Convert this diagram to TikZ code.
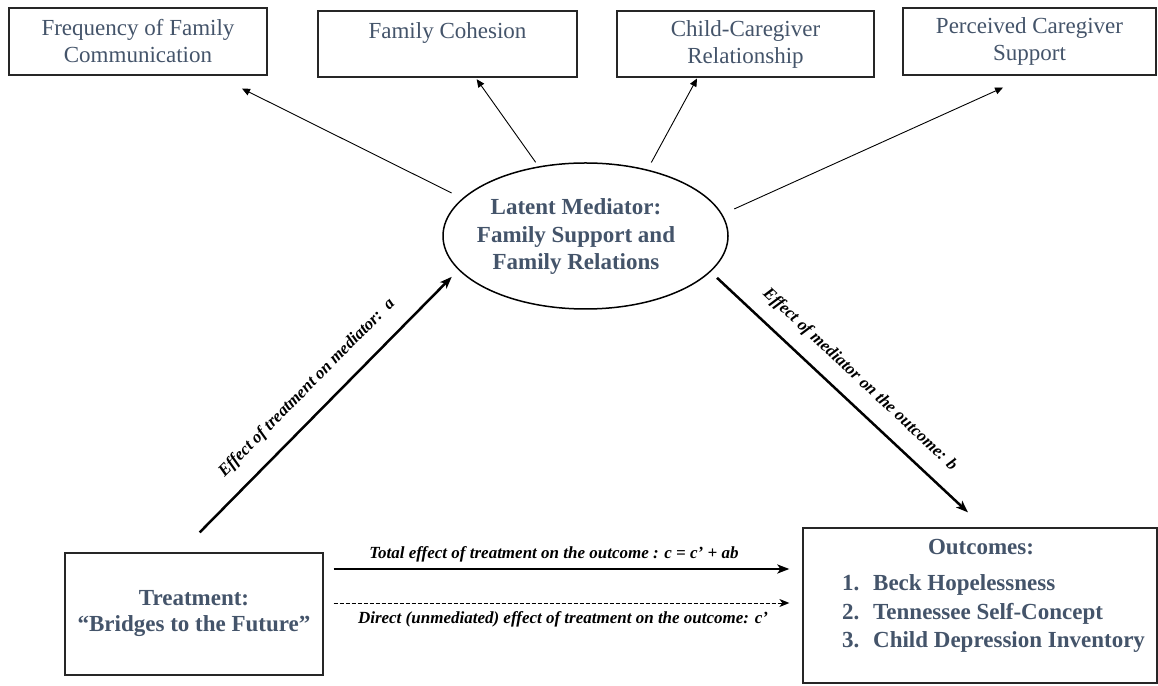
\documentclass[tikz,border=0pt]{standalone}
\usepackage{fontspec}
\setmainfont{Liberation Serif}
\usepackage{tikz}
\usetikzlibrary{shapes.geometric, arrows.meta, positioning}
\definecolor{cSlate}{RGB}{68,84,106}
\tikzset{
	indbox/.style  ={rectangle, draw=black!85, line width=1.2pt, minimum width=258pt, minimum height=67pt, inner sep=0pt, align=center, text=cSlate, font=\fontsize{23}{27}\selectfont},
	bigbox/.style  ={rectangle, draw=black!85, line width=1.3pt, inner sep=0pt, align=center, text=cSlate, font=\fontsize{23}{26}\selectfont\bfseries},
	latent/.style  ={ellipse, draw=black, line width=1.5pt, minimum width=285pt, minimum height=146pt, inner sep=0pt},
	medtext/.style ={align=center, inner sep=0pt, text=cSlate, font=\fontsize{23}{27.5}\selectfont\bfseries},
	outtext/.style ={inner sep=0pt, text=cSlate, font=\fontsize{23}{28}\selectfont\bfseries},
	lbl/.style     ={inner sep=0pt, font=\fontsize{17}{20}\selectfont\bfseries\itshape},
	thinarr/.style ={-{Triangle[length=8pt,width=7pt]}, line width=0.9pt},
	mainarr/.style ={-{Stealth[length=12pt,width=9pt,inset=3pt]}, line width=2.5pt},
	directarr/.style={-{Stealth[length=10pt,width=8pt,inset=3pt]}, line width=1pt, dash pattern=on 4pt off 2pt},
}
\begin{document}
\begin{tikzpicture}[x=1pt, y=1pt]
	\useasboundingbox[fill=white] (0,0) rectangle (1158,685);
	% indicators of the latent mediator
	\node[indbox] (ffc) at (138,643.5) {Frequency of Family\\Communication};
	\node[indbox, minimum width=259pt, minimum height=66pt] (fc) at (447.5,641) {Family Cohesion\\\mbox{}};
	\node[indbox, minimum width=257pt, minimum height=66pt] (ccr) at (745.5,641) {Child-Caregiver\\Relationship};
	\node[indbox, minimum width=253pt] (pcs) at (1029.5,643.5) {Perceived Caregiver\\Support};
	% mediator
	\node[latent] (med) at (585.5,449) {};
	\node[medtext] (medlbl) at (576,448) {Latent Mediator:\\Family Support and\\Family Relations};
	% treatment and outcomes
	\node[bigbox, minimum width=258pt, minimum height=122pt] (trt) at (194,71) {Treatment:\\“Bridges to the Future”};
	\node[bigbox, minimum width=354pt, minimum height=155pt] (out) at (980,79.5) {};
	\node[outtext, anchor=base] (outhead) at (981,130) {Outcomes:};
	\node[outtext, anchor=base west] (out1) at (842,94) {\makebox[31pt][l]{1.}Beck Hopelessness};
	\node[outtext, anchor=base west] (out2) at (842,66) {\makebox[31pt][l]{2.}Tennessee Self-Concept};
	\node[outtext, anchor=base west] (out3) at (842,38) {\makebox[31pt][l]{3.}Child Depression Inventory};
	% loadings
	\draw[thinarr, shorten <=12pt, shorten >=29pt] (med.163) -- ([xshift=78pt]ffc.south);
	\draw[thinarr, shorten <=5pt, shorten >=2pt] (med.124) -- ([xshift=28pt]fc.south);
	\draw[thinarr, shorten <=8pt, shorten >=1pt] (med.47) -- ([xshift=-48pt]ccr.south);
	\draw[thinarr, shorten <=13pt, shorten >=29pt] (med.9.5) -- (pcs.south);
	% paths a, b, c and c'
	\draw[mainarr, shorten <=28pt, shorten >=9.5pt] ([xshift=-14pt]trt.north) -- node[lbl, pos=.52, sloped, above=16pt] {Effect of treatment on mediator:\ \ a} (med.195);
	\draw[mainarr, shorten <=8.7pt, shorten >=22pt] (med.344.4) -- node[lbl, pos=.488, sloped, above=14pt] {Effect of mediator on the outcome: b} ([xshift=4pt]out.north);
	\draw[mainarr, shorten <=10pt, shorten >=13pt] ([yshift=45pt]trt.east) -- node[lbl, pos=.481, anchor=base, yshift=10pt] {Total effect of treatment on the outcome : c = c’ + ab} ([yshift=36.5pt]out.west);
	\draw[directarr, shorten <=10pt, shorten >=13pt] ([yshift=11pt]trt.east) -- node[lbl, midway, anchor=base, yshift=-20pt] {Direct (unmediated) effect of treatment on the outcome: c’} ([yshift=2.5pt]out.west);
\end{tikzpicture}
\end{document}
